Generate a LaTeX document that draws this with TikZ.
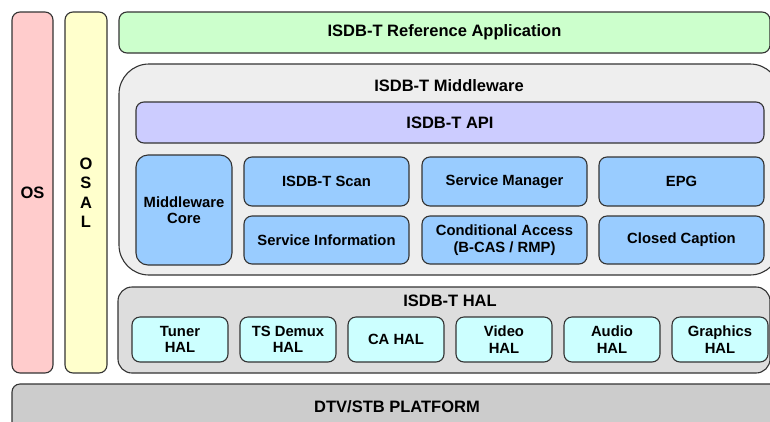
\documentclass[tikz,border=0pt]{standalone}
\usepackage{fontspec}
\setmainfont{Liberation Sans}
\usetikzlibrary{positioning}
\definecolor{osfill}{HTML}{FFCCCC}
\definecolor{osalfill}{HTML}{FFFFCC}
\definecolor{appfill}{HTML}{CCFFCC}
\definecolor{mwfill}{HTML}{EEEEEE}
\definecolor{apifill}{HTML}{CCCCFF}
\definecolor{modfill}{HTML}{99CCFF}
\definecolor{halfill}{HTML}{DDDDDD}
\definecolor{halmod}{HTML}{CCFFFF}
\definecolor{platfill}{HTML}{CCCCCC}

\begin{document}
\begin{tikzpicture}[
  x=1pt,y=-1pt,
  node distance=12pt,
  blk/.style={draw=black!80,line width=1.1pt,rounded corners=8pt,inner sep=0pt,outer sep=0pt,align=center,
    font=\fontsize{14.8}{16.5}\selectfont\bfseries},
  head/.style={blk,font=\fontsize{16.5}{18}\selectfont\bfseries},
  title/.style={font=\fontsize{16.5}{18}\selectfont\bfseries,inner sep=0pt},
  mod/.style={blk,fill=modfill,minimum width=165pt},
  hmod/.style={blk,fill=halmod,minimum width=96pt,minimum height=45pt}
]
\useasboundingbox (0,0) rectangle (770,421);
% side columns
\node[head,fill=osfill,minimum width=41pt,minimum height=361pt] (os) at (32.5,192.5) {OS};
\node[head,fill=osalfill,minimum width=42pt,minimum height=361pt,
      font=\fontsize{16.5}{19.5}\selectfont\bfseries] (osal) at (86,192.5) {O\\S\\A\\L};
% application
\node[head,fill=appfill,minimum width=651pt,minimum height=41pt] (app) at (444.5,32.5) {ISDB-T Reference Application};
% middleware
\node[blk,fill=mwfill,rounded corners=30pt,minimum width=661pt,minimum height=211pt] (mw) at (449.5,169.5) {};
\node[title] (mwtitle) at (449,86) {ISDB-T Middleware};
\node[head,fill=apifill,minimum width=628pt,minimum height=41pt] (api) at (450,122.5) {ISDB-T API};
\node[blk,fill=modfill,minimum width=96pt,minimum height=110pt,rounded corners=12pt] (core) at (184,210) {Middleware\\Core};
\node[mod,minimum height=49pt] (scan) at (326.5,181.5) {ISDB-T Scan};
\node[mod,minimum height=49pt,right=13pt of scan] (svcmgr) {Service Manager};
\node[mod,minimum height=49pt,right=of svcmgr] (epg) {EPG};
\node[mod,minimum height=48pt] (si) at (326.5,240) {Service Information};
\node[mod,minimum height=48pt,right=13pt of si] (ca) {Conditional Access\\(B-CAS / RMP)};
\node[mod,minimum height=48pt,right=of ca] (cc) {Closed Caption};
% HAL
\node[blk,fill=halfill,rounded corners=14pt,minimum width=652pt,minimum height=86pt] (hal) at (444,330) {};
\node[title] (haltitle) at (450,301) {ISDB-T HAL};
\node[hmod] (tuner) at (180,339.5) {Tuner\\HAL};
\node[hmod,right=of tuner] (demux) {TS Demux\\HAL};
\node[hmod,right=of demux] (cahal) {CA HAL};
\node[hmod,right=of cahal] (video) {Video\\HAL};
\node[hmod,right=of video] (audio) {Audio\\HAL};
\node[hmod,right=of audio] (gfx) {Graphics\\HAL};
% platform
\node[head,fill=platfill,minimum width=770pt,minimum height=46pt] (plat) at (397,407) {DTV/STB PLATFORM};
\end{tikzpicture}
\end{document}
